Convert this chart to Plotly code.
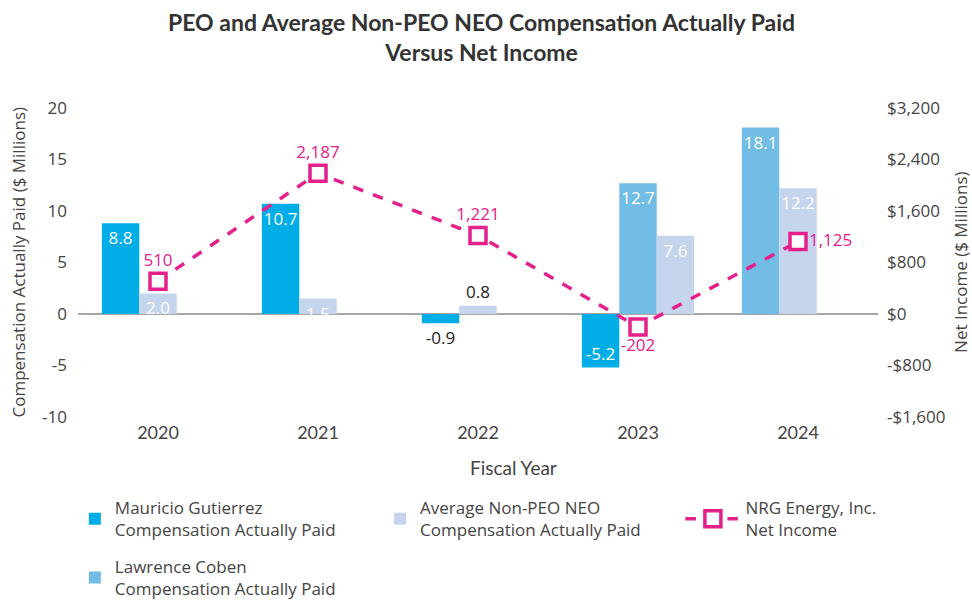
import plotly.graph_objects as go

# ---- data ----
years = ["2020", "2021", "2022", "2023", "2024"]
gutierrez = [8.8, 10.7, -0.9, -5.2, None]
coben = [None, None, None, 12.7, 18.1]
avg_neo = [2.0, 1.5, 0.8, 7.6, 12.2]
net_income = [510, 2187, 1221, -202, 1125]

left_ticks = [-10, -5, 0, 5, 10, 15, 20]
left_ticktext = ["-10", "-5", "0", "5", "10", "15", "20"]
right_ticks = [-1600, -800, 0, 800, 1600, 2400, 3200]
right_ticktext = ["-$1,600", "-$800", "$0", "$800", "$1,600", "$2,400", "$3,200"]

names = {
    "g": "Mauricio Gutierrez<br>Compensation Actually Paid",
    "c": "Lawrence Coben<br>Compensation Actually Paid",
    "a": "Average Non-PEO NEO<br>Compensation Actually Paid",
    "n": "NRG Energy, Inc.<br>Net Income",
}

C_G = "#00ADE6"
C_C = "#72BDE6"
C_A = "#C6D5EE"
C_N = "#E5208A"
FONT = "Open Sans"
TXT = "#444444"

# slot layout: bars present in each year are packed left-to-right in 3 slots
series = [gutierrez, coben, avg_neo]
W = 0.234
offsets = [[None] * len(years) for _ in series]
for i in range(len(years)):
    k = 0
    for s_idx, s in enumerate(series):
        if s[i] is not None:
            offsets[s_idx][i] = -1.5 * W + k * W
            k += 1


def bar_text(vals):
    txt, pos = [], []
    for v in vals:
        if v is None:
            txt.append("")
            pos.append("none")
        else:
            txt.append(f"{v:.1f}")
            pos.append("inside" if abs(v) >= 1.5 else "outside")
    return txt, pos


fig = go.Figure()
for vals, off, col, key, leg in [
    (gutierrez, offsets[0], C_G, "g", "legend"),
    (coben, offsets[1], C_C, "c", "legend4"),
    (avg_neo, offsets[2], C_A, "a", "legend2"),
]:
    t, p = bar_text(vals)
    fig.add_trace(go.Bar(
        x=years, y=vals, name=names[key], marker=dict(color=col, line=dict(width=0)),
        offset=[o if o is not None else 0 for o in off], width=W,
        text=t, textposition=p, insidetextanchor="end", textangle=0,
        insidetextfont=dict(color="white", size=17, family=FONT),
        outsidetextfont=dict(color="#222222", size=17, family=FONT),
        constraintext="none", cliponaxis=False, legend=leg,
    ))

fig.add_trace(go.Scatter(
    x=years, y=net_income, yaxis="y2", name=names["n"], mode="lines+markers+text",
    line=dict(color=C_N, width=3.5, dash="dash"),
    marker=dict(symbol="square", size=16, color="white", line=dict(color=C_N, width=3.5)),
    text=[f"{v:,}" for v in net_income],
    textposition=["top center", "top center", "top center", "bottom center", "middle right"],
    textfont=dict(color=C_N, size=17, family=FONT),
    cliponaxis=False, legend="legend3",
))

leg_common = dict(orientation="h", yanchor="top", xanchor="left",
                  xref="container", yref="container",
                  font=dict(family=FONT, size=17, color=TXT), bgcolor="rgba(0,0,0,0)",
                  traceorder="normal")

fig.update_layout(
    width=972, height=602,
    margin=dict(l=78, r=94, t=108, b=185),
    paper_bgcolor="white", plot_bgcolor="white",
    barmode="overlay",
    font=dict(family=FONT, size=17, color=TXT),
    xaxis=dict(type="category", range=[-0.5, 4.5], showgrid=False, showline=False,
               ticks="", tickfont=dict(family="Lato", size=18, color=TXT), ticklabelstandoff=3),
    yaxis=dict(range=[-10, 20], tickvals=left_ticks, ticktext=left_ticktext,
               showgrid=False, zeroline=True, zerolinecolor="#A6A6A6", zerolinewidth=2,
               showline=False, ticks="", ticklabelstandoff=10,
               tickfont=dict(family=FONT, size=17, color=TXT)),
    yaxis2=dict(range=[-1600, 3200], tickvals=right_ticks, ticktext=right_ticktext,
                overlaying="y", side="right", showgrid=False, zeroline=False,
                showline=False, ticks="", ticklabelstandoff=8,
                tickfont=dict(family=FONT, size=17, color=TXT)),
    legend=dict(x=0.077, y=0.186, **leg_common),
    legend2=dict(x=0.391, y=0.186, **leg_common),
    legend3=dict(x=0.70, y=0.186, itemwidth=55, **leg_common),
    legend4=dict(x=0.077, y=0.088, **leg_common),
    showlegend=True,
    annotations=[
        dict(text="PEO and Average Non-PEO NEO Compensation Actually Paid<br>Versus Net Income",
             xref="paper", yref="paper", x=0.504, y=1.33, xanchor="center", yanchor="top",
             showarrow=False,
             font=dict(family="Lato", size=23, color="#333333", weight="bold")),
        dict(text="Fiscal Year", xref="paper", yref="paper", x=0.544, y=-0.165,
             xanchor="center", yanchor="middle", showarrow=False,
             font=dict(family="Lato", size=19, color=TXT)),
        dict(text="Compensation Actually Paid ($ Millions)", xref="paper", yref="paper",
             x=-0.075, y=0.5, xanchor="center", yanchor="middle", textangle=-90,
             showarrow=False, font=dict(family=FONT, size=17, color=TXT)),
        dict(text="Net Income ($ Millions)", xref="paper", yref="paper",
             x=1.103, y=0.5, xanchor="center", yanchor="middle", textangle=-90,
             showarrow=False, font=dict(family=FONT, size=17, color=TXT)),
    ],
)

fig.write_html("out.html", config={"displayModeBar": False},
               post_script="document.body.style.margin='0px';")
